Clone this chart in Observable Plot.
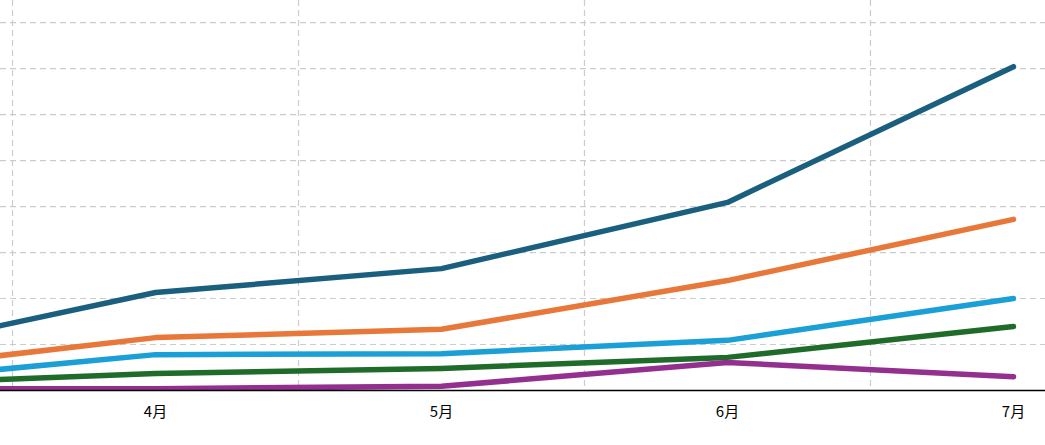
<!DOCTYPE html>
<html><head><meta charset="utf-8">
<script src="https://cdn.jsdelivr.net/npm/d3@7"></script>
<script src="https://cdn.jsdelivr.net/npm/@observablehq/plot@0.6"></script>
<style>body{margin:0;background:#fff}</style>
</head><body><div id="c"></div>
<script>
const months = [3,4,5,6,7];
const monthLabels = ["3月","4月","5月","6月","7月"];
const seriesNames = ["A","B","C","D","E"];
const seriesColors = ["#1b5f7f","#e8773a","#1a9fd6","#1f6b2a","#93308f"];
const valuesA = [8.0,21.3,26.5,40.9,70.4];
const valuesB = [4.3,11.5,13.3,23.9,37.2];
const valuesC = [1.9,7.8,8.0,10.9,20.0];
const valuesD = [1.3,3.7,4.8,7.2,13.9];
const valuesE = [0.4,0.4,0.9,6.1,3.0];
const gridY = [10,20,30,40,50,60,70,80];
const gridX = [3.5,4.5,5.5,6.5];
const all = [valuesA,valuesB,valuesC,valuesD,valuesE];
const data = [];
all.forEach((vals,i)=>vals.forEach((v,j)=>data.push({s:seriesNames[i],m:months[j],v})));
const chart = Plot.plot({
  width:1045,height:445,marginTop:0,marginBottom:55,marginLeft:0,marginRight:0,
  x:{domain:[3.458,7.112],axis:null},
  y:{domain:[0,84.8],axis:null},
  color:{domain:seriesNames,range:seriesColors},
  marks:[
    Plot.ruleY(gridY,{stroke:"#ccc",strokeDasharray:"6,4",strokeWidth:1.2}),
    Plot.ruleX(gridX,{stroke:"#ccc",strokeDasharray:"6,4",strokeWidth:1.2}),
    Plot.line(data,{x:"m",y:"v",z:"s",stroke:"s",strokeWidth:5.5,clip:true}),
    Plot.ruleY([0],{stroke:"#000",strokeWidth:1.5}),
    Plot.axisX(months.slice(1),{tickFormat:d=>monthLabels[months.indexOf(d)],tickSize:0,tickPadding:16,fontSize:15,fill:"#000",fontFamily:"Noto Sans CJK SC",label:null})
  ]
});
document.getElementById("c").append(chart);
</script></body></html>
